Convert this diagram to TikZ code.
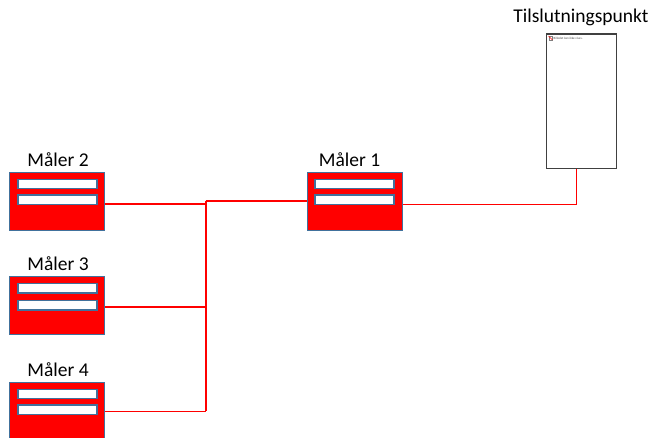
\documentclass[tikz,border=0pt]{standalone}
\usepackage{fontspec}
\setmainfont{Carlito}
\definecolor{mborder}{RGB}{65,113,156}
\definecolor{wire}{RGB}{255,0,0}
\definecolor{tpborder}{RGB}{64,64,64}
\tikzset{
  meter/.style={draw=mborder, line width=1.4pt, fill=wire, minimum width=95pt, minimum height=58pt, inner sep=0pt, anchor=north west},
  bar/.style={draw=mborder, line width=1.3pt, fill=white, minimum width=79pt, minimum height=9.5pt, inner sep=0pt, anchor=north west},
  lbl/.style={font=\fontsize{19.5}{23}\selectfont, inner sep=0pt},
  wireline/.style={draw=wire, line width=1.6pt},
  tpbox/.style={draw=tpborder, line width=1.2pt, fill=white, minimum width=69.7pt, minimum height=134.4pt, inner sep=0pt, anchor=north west}
}
\begin{document}
\begin{tikzpicture}[x=1pt,y=-1pt]
\useasboundingbox (0,0) rectangle (659,437);
\begin{scope}
\clip (0,0) rectangle (659,437);
% meters
\node[meter] (m1) at (306.7,171.7) {};
\node[bar] (m1a) at (314.3,178.5) {};
\node[bar] (m1b) at (314.3,194.3) {};
\node[meter] (m2) at (9,171.7) {};
\node[bar] (m2a) at (17.3,178.5) {};
\node[bar] (m2b) at (17.3,194.3) {};
\node[meter] (m3) at (9,275.7) {};
\node[bar] (m3a) at (17.3,282.7) {};
\node[bar] (m3b) at (17.3,299.7) {};
\node[meter] (m4) at (9,381.7) {};
\node[bar] (m4a) at (17.3,388.5) {};
\node[bar] (m4b) at (17.3,404.3) {};
% connection point
\node[tpbox] (tp) at (546,33.3) {};
\node[draw=gray, line width=0.3pt, fill=white, minimum size=3.5pt, inner sep=0pt] (icon) at (550.5,38) {};
\draw[red, line width=0.4pt] (icon.north west) -- (icon.south east);
\node[font=\fontsize{3.2}{4}\selectfont, anchor=west, inner sep=0pt, text=black!70] (tptxt) at (553.5,38) {Billedet kan ikke vises.};
% labels
\node[lbl] (l1) at (349.5,160) {Måler 1};
\node[lbl] (l2) at (58,160) {Måler 2};
\node[lbl] (l3) at (58,264) {Måler 3};
\node[lbl] (l4) at (58,369.5) {Måler 4};
\node[lbl] (ltp) at (581,17) {Tilslutningspunkt};
% wires
\coordinate (j) at (205.7,201);
\draw[wireline] ([yshift=-2.3pt]m2.east) -- ([yshift=-2.3pt]m2.east -| j);
\draw[wireline] ([yshift=-2.3pt]m2.east -| j) -- (j);
\draw[wireline] (j) -- (m1.west |- j);
\draw[wireline] (j) -- (j |- m4.east);
\draw[wireline] ([yshift=-1.6pt]m3.east) -- ([yshift=-1.6pt]m3.east -| j);
\draw[wireline] (m4.east) -- (m4.east -| j);
\draw[wireline] ([yshift=-3pt]m1.east) -| ([xshift=-5pt]tp.south);
\end{scope}
\end{tikzpicture}
\end{document}
